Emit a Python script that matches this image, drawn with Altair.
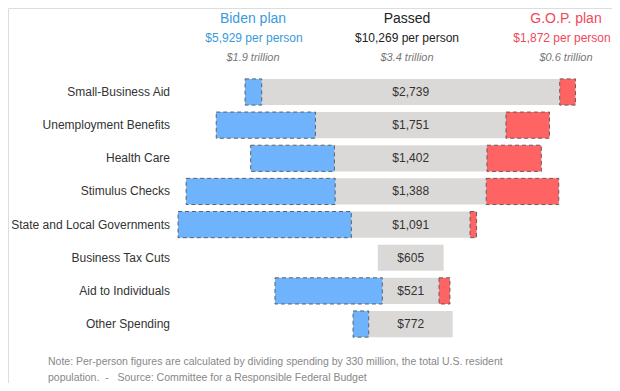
import altair as alt
import pandas as pd

categories = ["Small-Business Aid", "Unemployment Benefits", "Health Care", "Stimulus Checks",
              "State and Local Governments", "Business Tax Cuts", "Aid to Individuals", "Other Spending"]
passed = [2739, 1751, 1402, 1388, 1091, 605, 521, 772]
biden_extra = [153, 912, 770, 1370, 1593, 0, 987, 144]
gop_extra = [145, 400, 500, 667, 60, 0, 100, 0]
passed_labels = ["$2,739", "$1,751", "$1,402", "$1,388", "$1,091", "$605", "$521", "$772"]

header_titles = ["Biden plan", "Passed", "G.O.P. plan"]
header_per_person = ["$5,929 per person", "$10,269 per person", "$1,872 per person"]
header_totals = ["$1.9 trillion", "$3.4 trillion", "$0.6 trillion"]
header_colors = ["#3a9ad9", "#222222", "#f0485a"]
header_x = [245, 399, 558]
header_pp_x = [246, 399, 554]

note_lines = ["Note: Per-person figures are calculated by dividing spending by 330 million, the total U.S. resident",
              "population.\u00a0\u00a0-\u00a0\u00a0\u00a0Source: Committee for a Responsible Federal Budget"]

df = pd.DataFrame({
    "cat": categories,
    "passed": passed,
    "biden": biden_extra,
    "gop": gop_extra,
    "label": passed_labels,
})

FONT = "Liberation Sans"
W, H = 604, 375
px_per_dollar = 0.1088
center = 402.7
xdom = [-center / px_per_dollar, (W - center) / px_per_dollar]

step = 33.15
y0 = 84.0 - step / 2
y_scale = alt.Scale(domain=categories, range=[y0, y0 + step * 8], paddingInner=0.21, paddingOuter=0.105)
x_scale = alt.Scale(domain=xdom, range=[0, W], zero=False, nice=False)

base = alt.Chart(df).transform_calculate(
    g0="-datum.passed/2",
    g1="datum.passed/2",
    b0="-datum.passed/2 - datum.biden",
    r1="datum.passed/2 + datum.gop",
)

Y = alt.Y("cat:N", scale=y_scale, axis=None)

gray = base.mark_bar(color="#dad9d8").encode(
    x=alt.X("g0:Q", scale=x_scale, axis=None), x2="g1:Q", y=Y)

blue = base.transform_filter("datum.biden > 0").mark_bar(
    color="#6eb3fb", stroke="#555555", strokeWidth=1, strokeDash=[4, 3], strokeOpacity=0.9
).encode(x=alt.X("b0:Q", scale=x_scale, axis=None), x2="g0:Q", y=Y)

red = base.transform_filter("datum.gop > 0").mark_bar(
    color="#ff6464", stroke="#555555", strokeWidth=1, strokeDash=[4, 3], strokeOpacity=0.9
).encode(x=alt.X("g1:Q", scale=x_scale, axis=None), x2="r1:Q", y=Y)

vals = base.mark_text(font=FONT, fontSize=12, color="#333333", align="center", baseline="middle").encode(
    x=alt.value(center), y=Y, text="label:N")

cats = base.mark_text(font=FONT, fontSize=12, color="#333333", align="right", baseline="middle").encode(
    x=alt.value(162), y=Y, text="cat:N")

hdf = pd.DataFrame({"t": header_titles, "pp": header_per_person, "tot": header_totals,
                    "c": header_colors, "hx": header_x, "px": header_pp_x})
hbase = alt.Chart(hdf)
hx_scale = alt.Scale(domain=[0, W], range=[0, W], nice=False, zero=False)
h1 = hbase.mark_text(font=FONT, fontSize=14, align="center", baseline="middle").encode(
    x=alt.X("hx:Q", scale=hx_scale, axis=None),
    y=alt.value(11), text="t:N", color=alt.Color("c:N", scale=None))
h2 = hbase.mark_text(font=FONT, fontSize=12, align="center", baseline="middle").encode(
    x=alt.X("px:Q", scale=hx_scale, axis=None),
    y=alt.value(29.5), text="pp:N", color=alt.Color("c:N", scale=None))
h3 = hbase.mark_text(font=FONT, fontSize=11, fontStyle="italic", color="#777777", align="center", baseline="middle").encode(
    x=alt.X("hx:Q", scale=hx_scale, axis=None),
    y=alt.value(49.5), text="tot:N")

ndf = pd.DataFrame({"t": note_lines, "ny": [354, 370]})
notes = alt.Chart(ndf).mark_text(font=FONT, fontSize=10.5, color="#888888", align="left", baseline="middle").encode(
    x=alt.value(40),
    y=alt.Y("ny:Q", scale=alt.Scale(domain=[0, H], range=[0, H], nice=False, zero=False), axis=None),
    text="t:N")

chart = alt.layer(gray, blue, red, vals, cats, h1, h2, h3, notes).resolve_scale(
    x="independent", y="independent"
).properties(
    width=W, height=H, autosize=alt.AutoSizeParams(type="none"), padding=0
).configure_view(stroke=None).configure(background="white")

chart.save("out.html", embed_options={"renderer": "svg", "actions": False})
